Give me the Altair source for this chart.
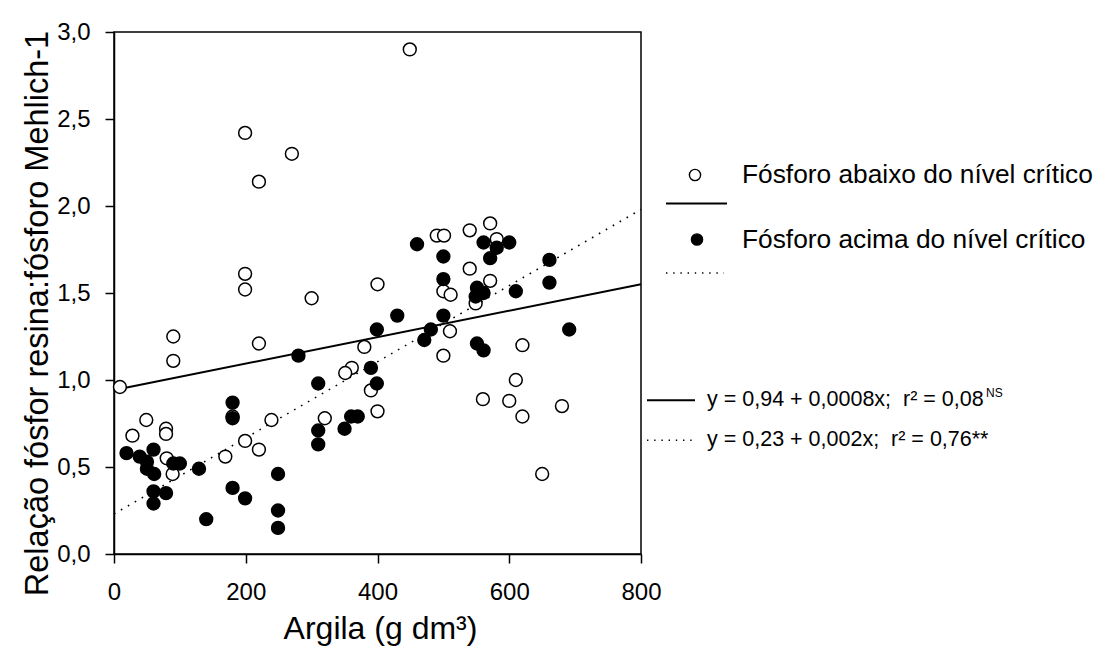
import altair as alt
import pandas as pd

# Fósforo abaixo do nível crítico (open circles)
open_x = [199, 270, 220, 449, 199, 199, 300, 400, 90, 90, 220, 380, 361, 351,
          490, 501, 540, 571, 581, 540, 571, 500, 511, 549, 510, 620, 500,
          9, 390, 400, 180, 239, 320, 49, 28, 79, 79, 199, 220, 169, 80, 89,
          610, 560, 600, 620, 680, 650]
open_y = [2.42, 2.30, 2.14, 2.90, 1.61, 1.52, 1.47, 1.55, 1.25, 1.11, 1.21, 1.19, 1.07, 1.04,
          1.83, 1.83, 1.86, 1.90, 1.81, 1.64, 1.57, 1.51, 1.49, 1.44, 1.28, 1.20, 1.14,
          0.96, 0.94, 0.82, 0.79, 0.77, 0.78, 0.77, 0.68, 0.72, 0.69, 0.65, 0.60, 0.56, 0.55, 0.46,
          1.00, 0.89, 0.88, 0.79, 0.85, 0.46]

# Fósforo acima do nível crítico (filled circles)
fill_x = [280, 399, 390, 460, 561, 581, 600, 571, 500, 661, 500, 661, 551, 561, 549, 610,
          430, 500, 481, 471, 691, 551, 561, 310, 399, 180, 180, 360, 370, 310, 350, 310,
          19, 39, 60, 50, 50, 61, 90, 100, 129, 60, 79, 60, 140, 180, 199, 249, 249, 249]
fill_y = [1.14, 1.29, 1.07, 1.78, 1.79, 1.76, 1.79, 1.70, 1.71, 1.69, 1.58, 1.56, 1.53, 1.50, 1.48, 1.51,
          1.37, 1.37, 1.29, 1.23, 1.29, 1.21, 1.17, 0.98, 0.98, 0.87, 0.78, 0.79, 0.79, 0.71, 0.72, 0.63,
          0.58, 0.56, 0.60, 0.53, 0.49, 0.46, 0.52, 0.52, 0.49, 0.36, 0.35, 0.29, 0.20, 0.38, 0.32, 0.46, 0.25, 0.15]

# regression lines (end points)
solid_x = [10, 800]
solid_y = [0.95, 1.55]
dot_x = [0, 800]
dot_y = [0.23, 1.98]

y_ticks = [0, 0.5, 1.0, 1.5, 2.0, 2.5, 3.0]
x_ticks = [0, 200, 400, 600, 800]

legend_open = "Fósforo abaixo do nível crítico"
legend_fill = "Fósforo acima do nível crítico"
eq_solid = "y = 0,94 + 0,0008x;\u00a0 r² = 0,08"
eq_solid_sup = "NS"
eq_dot = "y = 0,23 + 0,002x;\u00a0 r² = 0,76**"

FONT = "Liberation Sans"
W, H = 527, 522

df_open = pd.DataFrame({"x": open_x, "y": open_y})
df_fill = pd.DataFrame({"x": fill_x, "y": fill_y})
df_solid = pd.DataFrame({"x": solid_x, "y": solid_y})
df_dot = pd.DataFrame({"x": dot_x, "y": dot_y})

xscale = alt.Scale(domain=[0, 800], nice=False)
yscale = alt.Scale(domain=[0, 3], nice=False)

xaxis = alt.Axis(values=x_ticks, title="Argila (g dm³)", titleFontSize=32,
                 titleX=266, titleY=74, titleBaseline="middle", titleAlign="center",
                 labelFontSize=24, labelPadding=17, tickSize=9, labelFlush=False)
yaxis = alt.Axis(values=y_ticks, title="Relação fósfor resina:fósforo Mehlich-1",
                 titleFontSize=32.5, titleX=-77, titleY=281, titleBaseline="middle",
                 titleAlign="center", labelFontSize=24, labelPadding=15, tickSize=9,
                 labelFlush=False,
                 labelExpr="replace(format(datum.value, '.1f'), '.', ',')")

base_x = alt.X("x:Q", scale=xscale, axis=xaxis)
base_y = alt.Y("y:Q", scale=yscale, axis=yaxis)

solid = alt.Chart(df_solid).mark_line(color="black", strokeWidth=2).encode(x=base_x, y=base_y)
dotted = alt.Chart(df_dot).mark_line(color="black", strokeWidth=1.6, strokeDash=[1.6, 6.4]).encode(
    x=alt.X("x:Q", scale=xscale), y=alt.Y("y:Q", scale=yscale))
pts_open = alt.Chart(df_open).mark_point(shape="circle", filled=True, fill="white", stroke="black",
                                         strokeWidth=1.5, size=165, opacity=1).encode(
    x=alt.X("x:Q", scale=xscale), y=alt.Y("y:Q", scale=yscale))
pts_fill = alt.Chart(df_fill).mark_point(shape="circle", filled=True, fill="black", stroke="black",
                                         strokeWidth=1.5, size=165, opacity=1).encode(
    x=alt.X("x:Q", scale=xscale), y=alt.Y("y:Q", scale=yscale))

one = pd.DataFrame({"k": [0]})


def txt(s, x, y, size, align="left", baseline="middle"):
    return alt.Chart(one).mark_text(text=s, font=FONT, fontSize=size, align=align,
                                    baseline=baseline, color="black").encode(
        x=alt.value(x), y=alt.value(y))


def rule(x1, x2, y, dash=None, width=2):
    kw = dict(color="black", strokeWidth=width)
    if dash:
        kw["strokeDash"] = dash
    return alt.Chart(one).mark_rule(**kw).encode(x=alt.value(x1), x2=alt.value(x2), y=alt.value(y))


def sym(x, y, fill):
    return alt.Chart(one).mark_point(shape="circle", filled=True, fill=fill, stroke="black",
                                     strokeWidth=1.4, size=125, opacity=1).encode(
        x=alt.value(x), y=alt.value(y))


legend = [
    sym(581, 143, "white"), txt(legend_open, 628, 143, 26.3),
    rule(552, 613, 171.6),
    sym(583, 207.5, "black"), txt(legend_fill, 628, 207.5, 26.3),
    rule(552, 610, 241, dash=[1.4, 5.8], width=1.4),
    rule(533, 581, 368.3), txt(eq_solid, 593, 368.3, 21.5),
    txt(eq_solid_sup, 872, 361, 12),
    rule(533, 581, 408.3, dash=[1.4, 5.8], width=1.4), txt(eq_dot, 593, 408.3, 21.5),
]

chart = alt.layer(solid, dotted, pts_open, pts_fill, *legend).properties(
    width=W, height=H,
    autosize=alt.AutoSizeParams(type="none"),
    padding={"left": 114, "top": 32, "right": 470, "bottom": 100},
    background="white",
).configure_view(stroke="black", strokeWidth=1.5).configure_axis(
    domainColor="black", domainWidth=1.5, tickColor="black", tickWidth=1.5,
    labelColor="black", titleColor="black", labelFont=FONT, titleFont=FONT,
    grid=False, titleFontWeight="normal",
)

chart.save("out.html", embed_options={"renderer": "svg", "actions": False})
